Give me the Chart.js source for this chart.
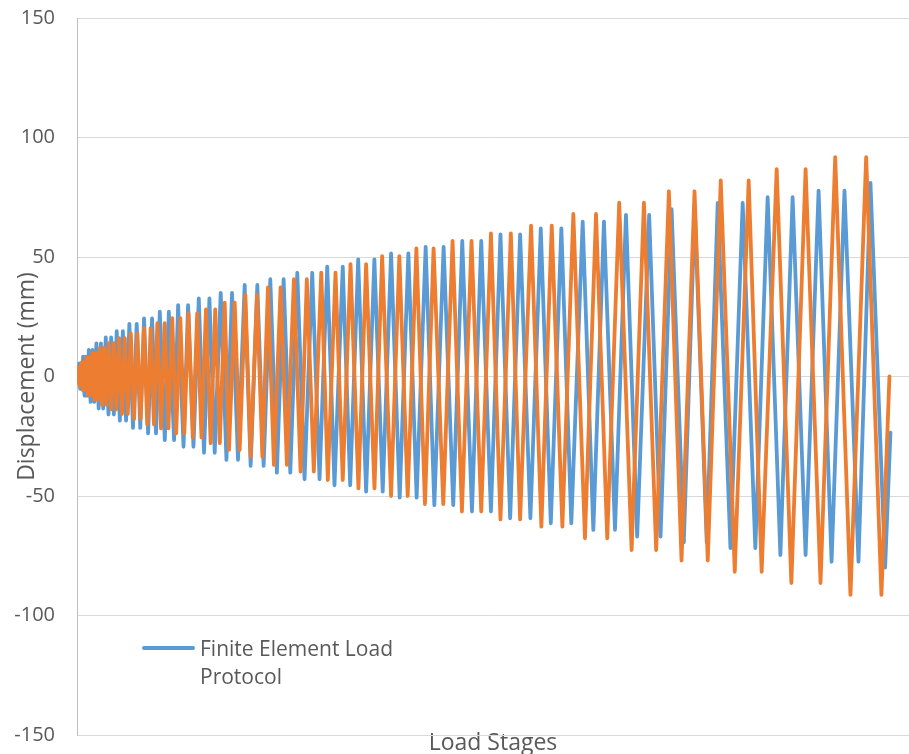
<!doctype html>
<html>
	<head>
		<meta charset="UTF-8" />
		<script src="https://cdn.jsdelivr.net/npm/chart.js"></script>
		<style type="text/css">
			body{margin:0;background:#fff;}
			.chartBox{position:relative;width:909px;height:754px;}
			.legendBox{position:absolute;left:142px;top:634px;display:flex;align-items:flex-start;
				font-family:"Open Sans",sans-serif;font-size:21px;line-height:28px;color:#595959;}
			.legendLine{display:inline-block;width:53px;height:4px;margin-top:12px;border-radius:2px;}
			.legendText{width:210px;margin-left:5px;}
		</style>
	</head>
	<body>
		<div class="chartBox">
			<canvas id="loadChart" width="909" height="754"></canvas>
			<div class="legendBox" id="legendBox"></div>
		</div>
		<script>
			// load stage of each peak, and displacement (mm) at that peak
			const blueStage = [
				0,
				2, 8, 13, 19,
				27, 38, 49, 59,
				72, 89, 104, 121,
				140, 161, 183, 205,
				230, 257, 284, 311,
				341, 373, 405, 437,
				471, 508, 544, 582,
				621, 664, 708, 750,
				795, 843, 890, 937,
				982, 1041, 1089, 1151,
				1199, 1263, 1317, 1381,
				1444, 1506, 1570, 1633,
				1704, 1772, 1838, 1909,
				1988, 2059, 2138, 2213,
				2292, 2370, 2450, 2529,
				2612, 2698, 2789, 2876,
				2967, 3053, 3151, 3239,
				3334, 3428, 3526, 3625,
				3724, 3826, 3929, 4027,
				4134, 4237, 4347, 4461,
				4568, 4683, 4793, 4908,
				5021, 5136, 5254, 5376,
				5499, 5618, 5743, 5861,
				5996, 6122, 6248, 6379,
				6509, 6642, 6784, 6919,
				7050, 7195, 7325, 7467,
				7597, 7748, 7893, 8043,
				8189, 8340, 8485, 8639,
				8793, 8947, 9100, 9266,
				9408, 9582,
				9645
			];
			const blueDisp = [
				0,
				2.7, -2.5, 2.7, -2.5,
				5.5, -5.2, 5.5, -5.2,
				8.3, -8, 8.3, -8,
				11.1, -10.6, 11.1, -10.6,
				13.9, -13.4, 13.9, -13.4,
				16.4, -15.9, 16.4, -15.9,
				19, -18.5, 19, -18.5,
				22, -21.5, 22, -21.5,
				24.3, -23.8, 24.3, -23.8,
				27.1, -26.6, 27.1, -26.6,
				29.9, -29.4, 29.9, -29.4,
				32.7, -31.9, 32.7, -31.9,
				35, -34.9, 35, -34.9,
				38.3, -37.4, 38.3, -37.4,
				40.7, -40.2, 40.7, -40.2,
				43.4, -43, 43.4, -43,
				46, -45.5, 46, -45.5,
				49, -48.2, 49, -48.2,
				51.5, -50.7, 51.5, -50.7,
				54.2, -53.8, 54.2, -53.8,
				56.7, -56.5, 56.7, -56.5,
				59.5, -59.3, 59.5, -59.3,
				62, -61.4, 62, -61.4,
				64.8, -64.2, 64.8, -64.2,
				67.6, -67, 67.6, -67,
				70, -69.4, 70, -69.4,
				72.6, -71.8, 72.6, -71.8,
				75, -74.7, 75, -74.7,
				77.8, -77.5, 77.8, -77.5,
				81, -80,
				-23.5
			];
			const orangeStage = [
				0,
				2, 6, 11, 15,
				21, 30, 39, 47,
				58, 71, 84, 97,
				112, 129, 146, 163,
				182, 204, 225, 247,
				271, 297, 322, 348,
				376, 406, 436, 467,
				499, 533, 567, 602,
				638, 677, 716, 755,
				794, 833, 873, 912,
				953, 996, 1040, 1084,
				1129, 1176, 1225, 1272,
				1322, 1373, 1425, 1476,
				1529, 1585, 1639, 1693,
				1751, 1802, 1870, 1929,
				1996, 2059, 2134, 2198,
				2264, 2335, 2414, 2489,
				2572, 2651, 2725, 2808,
				2896, 2974, 3065, 3151,
				3243, 3337, 3428, 3527,
				3618, 3724, 3822, 3921,
				4024, 4126, 4228, 4343,
				4453, 4564, 4678, 4793,
				4908, 5021, 5144, 5254,
				5384, 5506, 5629, 5755,
				5885, 6023, 6154, 6287,
				6429, 6576, 6722, 6867,
				7018, 7168, 7322, 7479,
				7633, 7799, 7964, 8118,
				8296, 8470, 8639, 8816,
				8990, 9171, 9357, 9538,
				9633
			];
			const orangeDisp = [
				0,
				2, -1.9, 2, -1.9,
				4, -3.8, 4, -3.8,
				6, -5.8, 6, -5.8,
				8, -7.8, 8, -7.8,
				10, -9.8, 10, -9.8,
				12, -11.8, 12, -11.8,
				14, -13.7, 14, -13.7,
				16, -15.7, 16, -15.7,
				18, -17.7, 18, -17.7,
				20.2, -20, 20.2, -20,
				22.3, -21.7, 22.3, -21.7,
				24.4, -23.8, 24.4, -23.8,
				26.4, -25.5, 26.4, -25.5,
				28.1, -27.9, 28.1, -27.9,
				30.9, -30.7, 30.9, -30.7,
				34.1, -33.5, 34.1, -33.5,
				37.3, -37, 37.3, -37,
				40.7, -39.8, 40.7, -39.8,
				43.5, -43.3, 43.5, -43.3,
				47, -46.8, 47, -46.8,
				50.4, -50, 50.4, -50,
				53.6, -53.4, 53.6, -53.4,
				56.7, -56.5, 56.7, -56.5,
				59.9, -59.8, 59.9, -59.8,
				63.1, -62.8, 63.1, -62.8,
				68, -67.7, 68, -67.7,
				72.7, -72.6, 72.7, -72.6,
				77.5, -77, 77.5, -77,
				82, -81.7, 82, -81.7,
				86.8, -86.4, 86.8, -86.4,
				91.8, -91.4, 91.8, -91.4,
				0
			];
			const yTicks = [-150, -100, -50, 0, 50, 100, 150];
			const blueLabel = 'Finite Element Load Protocol';

			const tickFont = { family: '"Open Sans", sans-serif', size: 20 };
			const titleFont = { family: '"Open Sans", sans-serif', size: 23 };
			const grey = '#595959';

			const data = {
				datasets: [{
					label: blueLabel,
					data: blueStage.map((s, i) => ({ x: s, y: blueDisp[i] })),
					borderColor: '#5B9BD5',
					order: 1
				}, {
					label: '',
					data: orangeStage.map((s, i) => ({ x: s, y: orangeDisp[i] })),
					borderColor: '#ED7D31',
					order: 0
				}]
			};
			data.datasets.forEach(d => {
				d.showLine = true;
				d.borderWidth = 3.8;
				d.pointRadius = 0;
				d.borderJoinStyle = 'round';
				d.borderCapStyle = 'round';
			});

			const config = {
				type: 'scatter',
				data,
				options: {
					responsive: false,
					animation: false,
					layout: { padding: { top: 18, left: 0, right: 0, bottom: 0 } },
					plugins: { legend: { display: false }, tooltip: { enabled: false } },
					scales: {
						x: {
							type: 'linear',
							min: 0,
							max: 9865,
							ticks: { display: false, stepSize: 1000 },
							grid: {
								drawTicks: false,
								color: c => (c.tick && c.tick.value % 1000 === 0) ? '#d9d9d9' : 'rgba(0,0,0,0)'
							},
							border: { color: '#d9d9d9' },
							title: { display: true, text: 'Load Stages', color: grey, font: titleFont, padding: { top: 0, bottom: -3 } },
							afterFit: s => { s.height = 19; }
						},
						y: {
							min: yTicks[0],
							max: yTicks[yTicks.length - 1],
							afterBuildTicks: s => { s.ticks = yTicks.map(v => ({ value: v })); },
							ticks: { color: grey, font: tickFont, padding: 22 },
							grid: { drawTicks: false, color: '#d9d9d9' },
							border: { color: '#bfbfbf' },
							title: { display: true, text: 'Displacement (mm)', color: grey, font: titleFont, padding: { top: 14, bottom: 0 } },
							// the tick padding should not push the plot down from the top
							afterFit: s => { s.width = 77; s.paddingTop = 0; s.paddingBottom = 0; }
						}
					}
				}
			};

			const loadChart = new Chart(document.getElementById('loadChart'), config);

			// legend shows only the finite element series, as in the original
			const ds = loadChart.data.datasets[0];
			document.getElementById('legendBox').innerHTML =
				'<span class="legendLine" style="background:' + ds.borderColor + '"></span>' +
				'<div class="legendText">' + ds.label + '</div>';
		</script>
	</body>
</html>
